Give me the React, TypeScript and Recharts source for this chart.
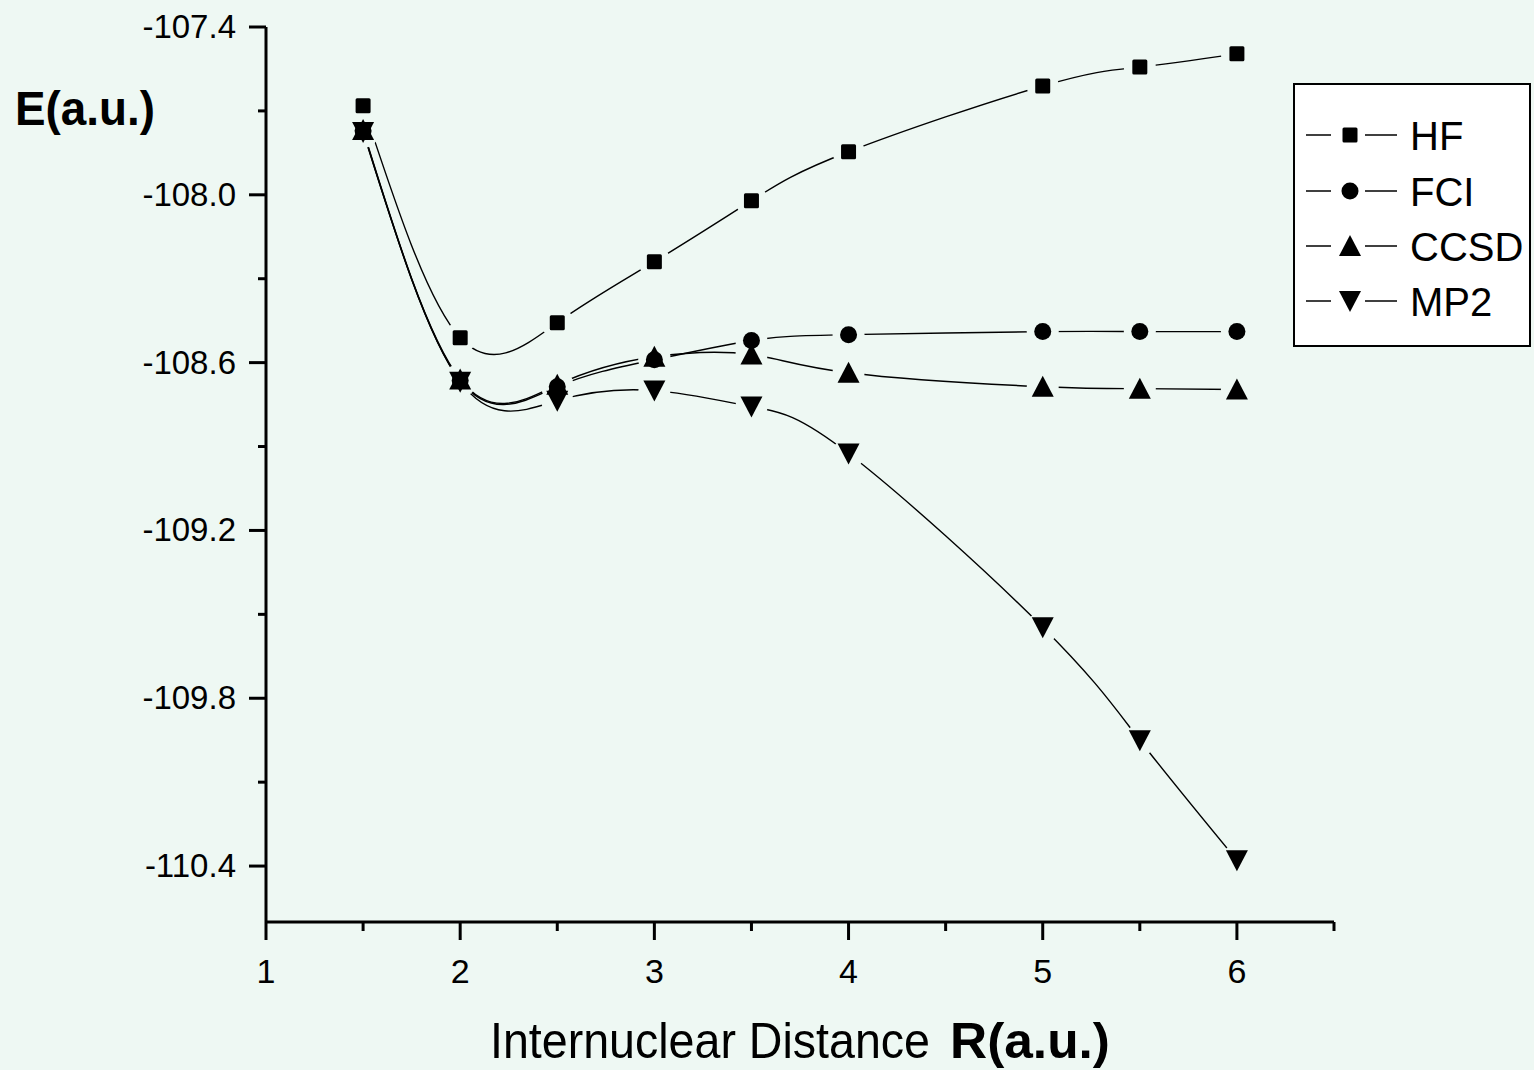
import { LineChart, Line, XAxis, YAxis } from "recharts";

const BG = "#EEF8F3";

// internuclear distance R (a.u.)
const rValues = [1.5, 2, 2.5, 3, 3.5, 4, 5, 5.5, 6];

// energies E (a.u.)
const hf = [-107.682, -108.511, -108.457, -108.239, -108.021, -107.846, -107.611, -107.543, -107.496];
const fci = [-107.771, -108.664, -108.686, -108.59, -108.521, -108.5, -108.489, -108.489, -108.489];
const ccsd = [-107.768, -108.66, -108.679, -108.579, -108.571, -108.636, -108.686, -108.693, -108.696];
const mp2 = [-107.775, -108.668, -108.736, -108.7, -108.757, -108.925, -109.546, -109.95, -110.379];

const xTicks = [1, 1.5, 2, 2.5, 3, 3.5, 4, 4.5, 5, 5.5, 6, 6.5];
const xLabels = [1, 2, 3, 4, 5, 6];
const yTicks = [-107.4, -107.7, -108.0, -108.3, -108.6, -108.9, -109.2, -109.5, -109.8, -110.1, -110.4];
const yLabels = [-107.4, -108.0, -108.6, -109.2, -109.8, -110.4];

const seriesNames = ["HF", "FCI", "CCSD", "MP2"];

const data = rValues.map((r, i) => ({
  r,
  HF: hf[i],
  FCI: fci[i],
  CCSD: ccsd[i],
  MP2: mp2[i],
}));

const FONT = "'Liberation Sans', Arial, sans-serif";

function Marker({ kind, cx, cy }: { kind: string; cx: number; cy: number }) {
  if (kind === "HF") {
    return <rect x={cx - 7.5} y={cy - 7.5} width={15} height={15} rx={1.5} fill="#000" />;
  }
  if (kind === "FCI") {
    return <circle cx={cx} cy={cy} r={8.5} fill="#000" />;
  }
  if (kind === "CCSD") {
    return <path d={`M${cx},${cy - 11} L${cx + 11},${cy + 10} L${cx - 11},${cy + 10} Z`} fill="#000" />;
  }
  return <path d={`M${cx},${cy + 11} L${cx + 11},${cy - 10} L${cx - 11},${cy - 10} Z`} fill="#000" />;
}

const XTick = (props: any) => {
  const { x, y, payload } = props;
  const v = payload.value;
  const major = xLabels.includes(v);
  return (
    <g>
      <line x1={x} x2={x} y1={y} y2={y + (major ? 18 : 9)} stroke="#000" strokeWidth={3} />
      {major && (
        <text x={x} y={y + 61} textAnchor="middle" fontSize={34} fontFamily={FONT} fill="#000">
          {v}
        </text>
      )}
    </g>
  );
};

const YTick = (props: any) => {
  const { x, y, payload } = props;
  const v = payload.value;
  const major = yLabels.some((l) => Math.abs(l - v) < 1e-6);
  return (
    <g>
      <line x1={x - (major ? 17 : 8)} x2={x} y1={y} y2={y} stroke="#000" strokeWidth={3} />
      {major && (
        <text x={x - 30} y={y + 11} textAnchor="end" fontSize={33} fontFamily={FONT} fill="#000">
          {v.toFixed(1)}
        </text>
      )}
    </g>
  );
};

function LegendBox() {
  const rows = [52, 108, 163, 218];
  return (
    <div
      style={{
        position: "absolute",
        left: 1293,
        top: 83,
        width: 238,
        height: 264,
        boxSizing: "border-box",
        border: "2px solid #000",
        background: "#fff",
      }}
    >
      <svg width={234} height={260} style={{ position: "absolute", left: -2, top: -2 }}>
        {seriesNames.map((name, i) => (
          <g key={name}>
            <line x1={13} x2={38} y1={rows[i]} y2={rows[i]} stroke="#000" strokeWidth={1.5} />
            <line x1={72} x2={104} y1={rows[i]} y2={rows[i]} stroke="#000" strokeWidth={1.5} />
            <Marker kind={name} cx={57} cy={rows[i]} />
            <text x={117} y={rows[i] + 15} fontSize={40} fontFamily={FONT} fill="#000">
              {name}
            </text>
          </g>
        ))}
      </svg>
    </div>
  );
}

export default function App() {
  return (
    <div style={{ position: "fixed", left: 0, top: 0, width: 1534, height: 1070, background: BG }}>
      <LineChart
        width={1534}
        height={1070}
        data={data}
        margin={{ top: 27, right: 200, bottom: 0, left: 0 }}
      >
        <XAxis
          dataKey="r"
          type="number"
          domain={[1, 6.5]}
          ticks={xTicks}
          interval={0}
          height={148}
          tickSize={0}
          tickMargin={0}
          tick={<XTick />}
          axisLine={{ stroke: "#000", strokeWidth: 3 }}
          tickLine={false}
        />
        <YAxis
          type="number"
          domain={[-110.6, -107.4]}
          ticks={yTicks}
          interval={0}
          width={266}
          tickSize={0}
          tickMargin={0}
          tick={<YTick />}
          axisLine={{ stroke: "#000", strokeWidth: 3 }}
          tickLine={false}
        />
        {seriesNames.map((name) => (
          <Line
            key={"line-" + name}
            dataKey={name}
            type="natural"
            stroke="#000"
            strokeWidth={1.4}
            dot={false}
            activeDot={false}
            isAnimationActive={false}
          />
        ))}
        {seriesNames.map((name) => (
          <Line
            key={"halo-" + name}
            dataKey={name}
            stroke="none"
            legendType="none"
            dot={(p: any) => <circle key={p.index} cx={p.cx} cy={p.cy} r={16} fill={BG} />}
            activeDot={false}
            isAnimationActive={false}
          />
        ))}
        {seriesNames.map((name) => (
          <Line
            key={"mark-" + name}
            dataKey={name}
            stroke="none"
            legendType="none"
            dot={(p: any) => <Marker key={p.index} kind={name} cx={p.cx} cy={p.cy} />}
            activeDot={false}
            isAnimationActive={false}
          />
        ))}
        <text x={15} y={125} fontSize={48} fontWeight="bold" fontFamily={FONT} textLength={140} lengthAdjust="spacingAndGlyphs">
          E(a.u.)
        </text>
        <text x={490} y={1058} fontSize={50} fontFamily={FONT} textLength={440} lengthAdjust="spacingAndGlyphs">
          Internuclear Distance
        </text>
        <text x={950} y={1058} fontSize={50} fontWeight="bold" fontFamily={FONT} textLength={160} lengthAdjust="spacingAndGlyphs">
          R(a.u.)
        </text>
      </LineChart>
      <LegendBox />
    </div>
  );
}
